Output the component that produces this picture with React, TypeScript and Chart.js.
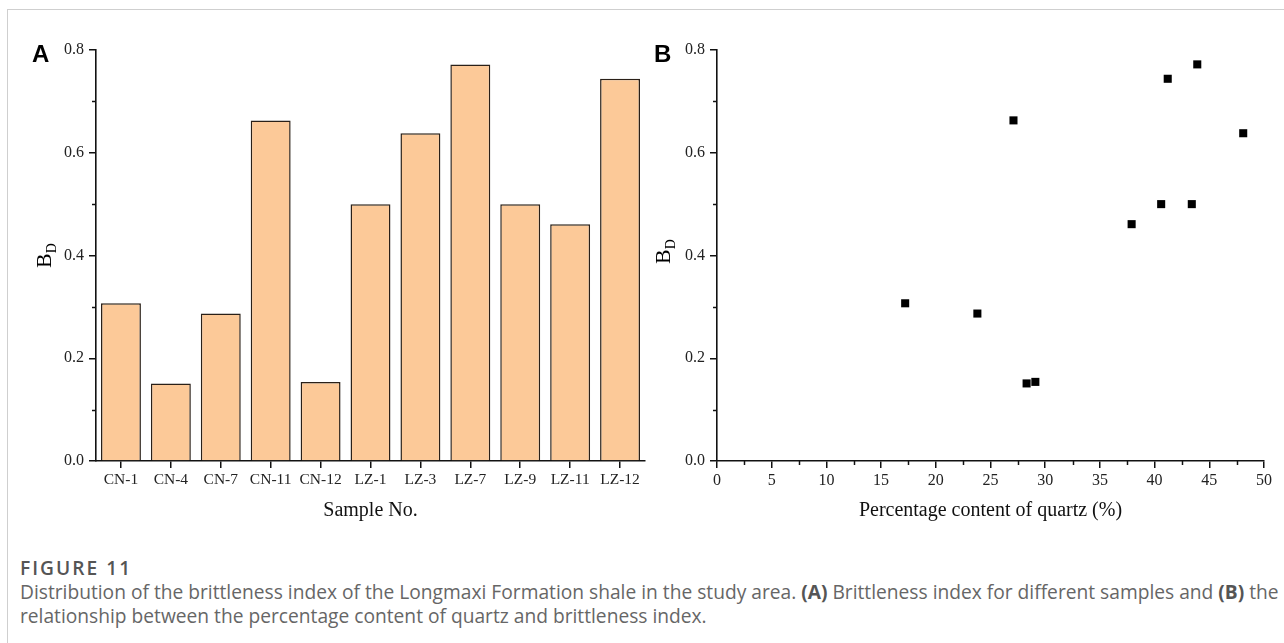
import React, { useEffect, useRef } from "react";
import { Chart, registerables } from "chart.js";

Chart.register(...registerables);

// ---- Data ----
const sampleNames = ["CN-1", "CN-4", "CN-7", "CN-11", "CN-12", "LZ-1", "LZ-3", "LZ-7", "LZ-9", "LZ-11", "LZ-12"];
const brittlenessBD = [0.307, 0.151, 0.287, 0.663, 0.154, 0.5, 0.638, 0.772, 0.5, 0.461, 0.744];
const quartzPercent = [17.2, 28.3, 23.8, 27.1, 29.1, 40.6, 48.1, 43.9, 43.4, 37.9, 41.2];
const yMajorTicks = [0, 0.2, 0.4, 0.6, 0.8];
const yMinorTicks = [0.1, 0.3, 0.5, 0.7];
const xMinorTicksQuartz = [2.5, 7.5, 12.5, 17.5, 22.5, 27.5, 32.5, 37.5, 42.5, 47.5];

const SERIF = "'Liberation Serif', 'Times New Roman', serif";
const AXIS_COLOR = "#111";

const minorTicksPlugin = {
  id: "minorTicks",
  afterDraw(chart: any, _args: any, opts: any) {
    const ctx = chart.ctx;
    const area = chart.chartArea;
    ctx.save();
    ctx.strokeStyle = AXIS_COLOR;
    ctx.lineWidth = 1.5;
    (opts.y || []).forEach((v: number) => {
      const y = Math.round(chart.scales.y.getPixelForValue(v)) + 0.5;
      ctx.beginPath();
      ctx.moveTo(area.left - 4, y);
      ctx.lineTo(area.left, y);
      ctx.stroke();
    });
    (opts.x || []).forEach((v: number) => {
      const x = Math.round(chart.scales.x.getPixelForValue(v)) + 0.5;
      ctx.beginPath();
      ctx.moveTo(x, area.bottom);
      ctx.lineTo(x, area.bottom + 4);
      ctx.stroke();
    });
    ctx.restore();
  },
};

const yTitlePlugin = {
  id: "yTitleSub",
  afterDraw(chart: any, _args: any, opts: any) {
    const ctx = chart.ctx;
    const area = chart.chartArea;
    ctx.save();
    ctx.fillStyle = "#000";
    ctx.translate(area.left - opts.offsetX, opts.startY);
    ctx.rotate(-Math.PI / 2);
    ctx.textAlign = "left";
    ctx.textBaseline = "alphabetic";
    ctx.font = `22px ${SERIF}`;
    ctx.fillText(opts.main, 0, 0);
    const w = ctx.measureText(opts.main).width;
    ctx.font = `14px ${SERIF}`;
    ctx.fillText(opts.sub, w, 5);
    ctx.restore();
  },
};

function yScale(width: number) {
  return {
    min: 0,
    max: 0.8,
    afterFit: (s: any) => {
      s.width = width;
    },
    afterBuildTicks: (s: any) => {
      s.ticks = yMajorTicks.map((v) => ({ value: v }));
    },
    ticks: {
      stepSize: 0.2,
      padding: 5,
      color: "#222",
      font: { family: SERIF, size: 16 },
      callback: (v: any) => Number(v).toFixed(1),
    },
    grid: {
      drawOnChartArea: false,
      drawTicks: true,
      tickLength: 7,
      color: AXIS_COLOR,
      lineWidth: 1.5,
    },
    border: { display: true, color: AXIS_COLOR, width: 1.6 },
    title: { display: false },
  };
}

function BarPanel() {
  const ref = useRef<HTMLCanvasElement>(null);
  useEffect(() => {
    const chart = new Chart(ref.current!, {
      type: "bar",
      data: {
        labels: sampleNames,
        datasets: [
          {
            data: brittlenessBD,
            backgroundColor: "#FCC998",
            borderColor: "#2a2018",
            borderWidth: 1.5,
            barPercentage: 0.8,
            categoryPercentage: 1,
          },
        ],
      },
      options: {
        responsive: false,
        animation: false,
        events: [],
        layout: { padding: { left: 0, top: 20, right: 15, bottom: 13 } },
        plugins: {
          legend: { display: false },
          tooltip: { enabled: false },
          minorTicks: { y: yMinorTicks },
          yTitleSub: { main: "B", sub: "D", offsetX: 45, startY: 268 - 30 },
        } as any,
        scales: {
          x: {
            offset: true,
            afterFit: (s: any) => {
              s.height = 66;
            },
            ticks: { padding: 3, color: "#222", font: { family: SERIF, size: 15.5 }, maxRotation: 0, autoSkip: false },
            grid: { offset: false, drawOnChartArea: false, drawTicks: true, tickLength: 7, color: AXIS_COLOR, lineWidth: 1.5 },
            border: { display: true, color: AXIS_COLOR, width: 1.6 },
            title: { display: true, text: "Sample No.", color: "#111", font: { family: SERIF, size: 20 }, padding: { top: 0, bottom: 4 } },
          },
          y: yScale(76) as any,
        },
      },
      plugins: [minorTicksPlugin, yTitlePlugin],
    });
    return () => chart.destroy();
  }, []);
  return <canvas ref={ref} width={640} height={510} style={{ position: "absolute", left: 20, top: 30, width: 640, height: 510 }} />;
}

function ScatterPanel() {
  const ref = useRef<HTMLCanvasElement>(null);
  useEffect(() => {
    const points = quartzPercent.map((q, i) => ({ x: q, y: brittlenessBD[i] }));
    const chart = new Chart(ref.current!, {
      type: "scatter",
      data: {
        datasets: [
          {
            data: points,
            pointStyle: "rect",
            pointRadius: 5.7,
            backgroundColor: "#000",
            borderColor: "#000",
            borderWidth: 0,
          },
        ],
      },
      options: {
        responsive: false,
        animation: false,
        events: [],
        layout: { padding: { left: 0, top: 20, right: 20, bottom: 13 } },
        plugins: {
          legend: { display: false },
          tooltip: { enabled: false },
          minorTicks: { y: yMinorTicks, x: xMinorTicksQuartz },
          yTitleSub: { main: "B", sub: "D", offsetX: 47, startY: 264 - 30 },
        } as any,
        scales: {
          x: {
            type: "linear",
            min: 0,
            max: 50,
            afterFit: (s: any) => {
              s.height = 66;
            },
            ticks: { stepSize: 5, padding: 3, color: "#222", font: { family: SERIF, size: 16 }, maxRotation: 0 },
            grid: { drawOnChartArea: false, drawTicks: true, tickLength: 7, color: AXIS_COLOR, lineWidth: 1.5 },
            border: { display: true, color: AXIS_COLOR, width: 1.6 },
            title: {
              display: true,
              text: "Percentage content of quartz (%)",
              color: "#111",
              font: { family: SERIF, size: 20 },
              padding: { top: 0, bottom: 4 },
            },
          },
          y: yScale(67) as any,
        },
      },
      plugins: [minorTicksPlugin, yTitlePlugin],
    });
    return () => chart.destroy();
  }, []);
  return <canvas ref={ref} width={634} height={510} style={{ position: "absolute", left: 650, top: 30, width: 634, height: 510 }} />;
}

export default function App() {
  const panelLabel: React.CSSProperties = {
    position: "absolute",
    top: 42,
    fontFamily: "'Liberation Sans', Arial, sans-serif",
    fontWeight: 700,
    fontSize: 24,
    lineHeight: "24px",
    color: "#000",
  };
  return (
    <div style={{ position: "absolute", left: 0, top: 0, width: 1284, height: 643, background: "#fff", overflow: "hidden" }}>
      <div style={{ position: "absolute", left: 7, top: 9, right: 0, height: 1, background: "#cfcfcf" }} />
      <div style={{ position: "absolute", left: 7, top: 9, width: 1, bottom: 0, background: "#cfcfcf" }} />
      <BarPanel />
      <ScatterPanel />
      <div style={{ ...panelLabel, left: 32 }}>A</div>
      <div style={{ ...panelLabel, left: 654 }}>B</div>
      <div
        style={{
          position: "absolute",
          left: 20,
          top: 556,
          fontFamily: "'Open Sans', 'Noto Sans', sans-serif",
          fontSize: 19.2,
          lineHeight: "24px",
          color: "#666",
          whiteSpace: "nowrap",
        }}
      >
        <div style={{ fontWeight: 600, color: "#555", letterSpacing: 2 }}>FIGURE 11</div>
        <div>
          Distribution of the brittleness index of the Longmaxi Formation shale in the study area. <b style={{ color: "#555" }}>(A)</b> Brittleness index for different samples and{" "}
          <b style={{ color: "#555" }}>(B)</b> the
        </div>
        <div>relationship between the percentage content of quartz and brittleness index.</div>
      </div>
    </div>
  );
}
